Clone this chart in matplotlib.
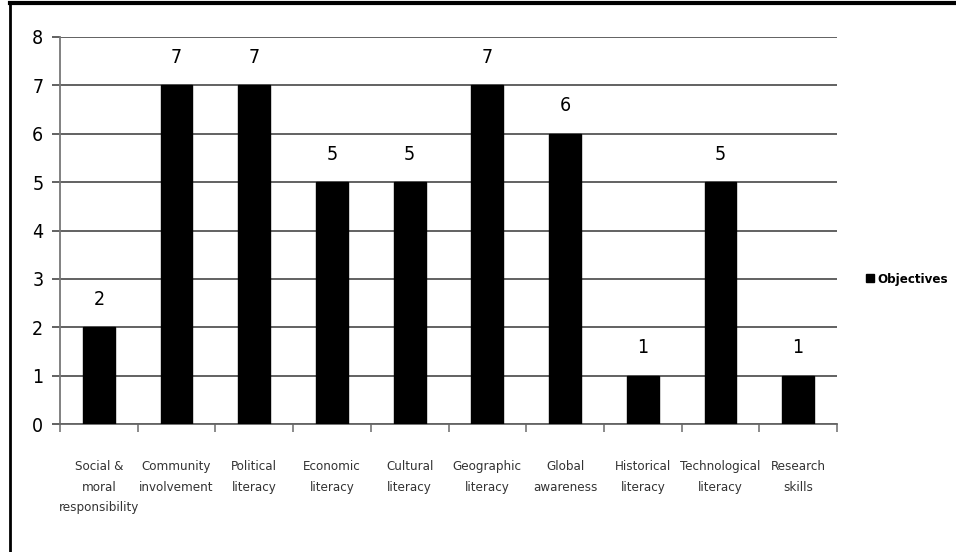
import matplotlib
matplotlib.use("Agg")
import os
import matplotlib.pyplot as plt
from matplotlib.lines import Line2D
from matplotlib.patches import Patch
from matplotlib import font_manager
from matplotlib.font_manager import FontProperties

categories = ["Social &\nmoral\nresponsibility", "Community\ninvolvement", "Political\nliteracy",
              "Economic\nliteracy", "Cultural\nliteracy", "Geographic\nliteracy", "Global\nawareness",
              "Historical\nliteracy", "Technological\nliteracy", "Research\nskills"]
values = [2, 7, 7, 5, 5, 7, 6, 1, 5, 1]
yticks = [0, 1, 2, 3, 4, 5, 6, 7, 8]
series_name = "Objectives"

files = [f.fname for f in font_manager.fontManager.ttflist]
extra = []
for d in ["/usr/share/fonts", "/usr/local/share/fonts", os.path.expanduser("~/.fonts")]:
    for root, _, fs in os.walk(d):
        for fn in fs:
            if fn.lower().endswith((".ttf", ".otf")):
                extra.append(os.path.join(root, fn))
allfiles = files + extra

def find(cands):
    for c in cands:
        for f in allfiles:
            if os.path.basename(f).lower() == c.lower():
                return f
    return None

reg = find(["LiberationSansNarrow-Regular.ttf", "DejaVuSansCondensed.ttf"])
bold = find(["LiberationSansNarrow-Bold.ttf", "DejaVuSansCondensed-Bold.ttf"])

def fp(size, b=False):
    f = bold if b else reg
    if f:
        return FontProperties(fname=f, size=size)
    return FontProperties(family="DejaVu Sans", size=size * 0.85, weight="bold" if b else "normal")

fig = plt.figure(figsize=(9.56, 5.52), dpi=100)
ax = fig.add_axes([60/956, 1-424/552, 777/956, 387/552])

x = list(range(len(categories)))
bars = ax.bar(x, values, width=0.41, color="black", edgecolor="black", zorder=3)
ax.set_xlim(-0.5, len(categories)-0.5)
ax.set_ylim(0, 8)
ax.set_yticks(yticks)
ax.set_yticklabels([str(t) for t in yticks])
for t in ax.get_yticklabels():
    t.set_fontproperties(fp(14))
ax.yaxis.grid(True, color="#555555", linewidth=1.3, zorder=0)
ax.tick_params(axis="y", length=6, color="#555555", width=1.3, pad=6)

ax.set_xticks([i + 0.5 for i in range(-1, len(categories))], minor=False)
ax.set_xticklabels([])
ax.set_xticks(x, minor=True)
ax.set_xticklabels(categories, minor=True, color="#333333", linespacing=1.75)
for t in ax.get_xticklabels(minor=True):
    t.set_fontproperties(fp(9.5))
ax.tick_params(axis="x", which="major", length=6, color="#777777", width=1.2)
ax.tick_params(axis="x", which="minor", length=0, pad=26)

for s in ["top", "right"]:
    ax.spines[s].set_visible(False)
ax.spines["left"].set_color("#777777")
ax.spines["bottom"].set_color("#666666")
ax.spines["left"].set_linewidth(1.3)
ax.spines["bottom"].set_linewidth(1.3)

for b, v in zip(bars, values):
    ax.annotate(str(v), (b.get_x() + b.get_width()/2, v), xytext=(0, 20), textcoords="offset points",
                ha="center", va="center", fontproperties=fp(14))

leg = fig.legend(handles=[Patch(facecolor="black", edgecolor="black", label=series_name)],
                 loc="center left", bbox_to_anchor=(866/956, 1-279/552), frameon=False,
                 handlelength=0.6, handleheight=0.6, handletextpad=0.3, borderpad=0.0,
                 borderaxespad=0.0, prop=fp(9.5, True))

fig.add_artist(Line2D([9.5/956, 9.5/956], [0, 1-3/552], color="black", linewidth=2, transform=fig.transFigure))
fig.add_artist(Line2D([9.5/956, 1], [1-3/552, 1-3/552], color="black", linewidth=3, transform=fig.transFigure))

fig.savefig("out.png", dpi=100)
